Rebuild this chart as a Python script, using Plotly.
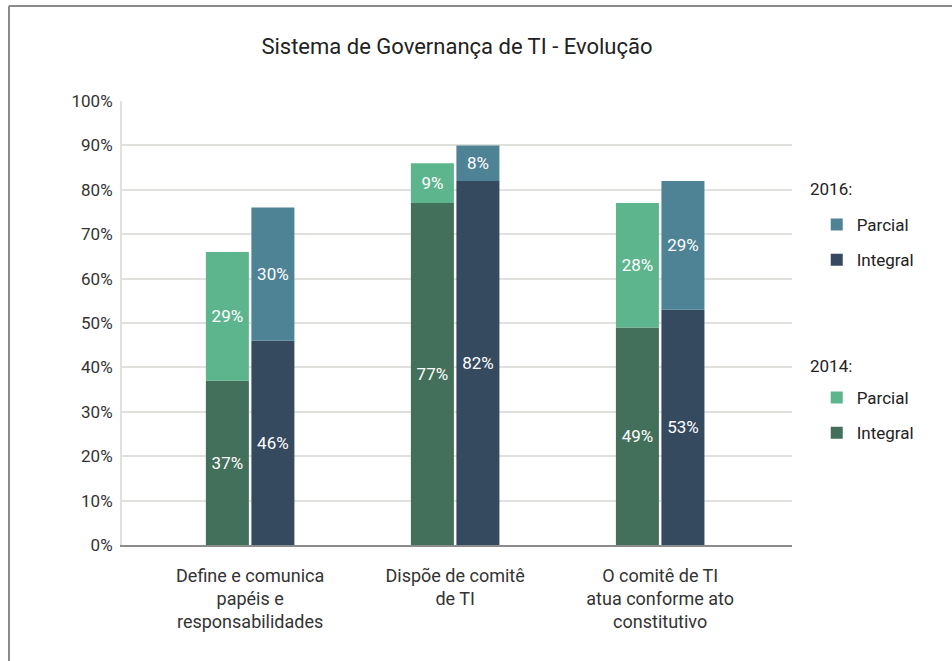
import plotly.graph_objects as go

# Data
categories = [
    "Define e comunica<br>papéis e<br>responsabilidades",
    "Dispõe de comitê<br>de TI",
    "O comitê de TI<br>atua conforme ato<br>constitutivo",
]
integral_2014 = [37, 77, 49]
parcial_2014 = [29, 9, 28]
integral_2016 = [46, 82, 53]
parcial_2016 = [30, 8, 29]
y_ticks = list(range(0, 101, 10))

FONT = "Roboto, 'Noto Sans', sans-serif"
C_INT_14 = "#43705a"
C_PAR_14 = "#5db58d"
C_INT_16 = "#35495f"
C_PAR_16 = "#4e8396"

def pct(vals):
    return [f"{v}%" for v in vals]

fig = go.Figure()

series = [
    # name, values, base, colour, year group, legend, rank
    ("Integral", integral_2014, None, C_INT_14, "2014", "legend2", 2),
    ("Parcial", parcial_2014, integral_2014, C_PAR_14, "2014", "legend2", 1),
    ("Integral", integral_2016, None, C_INT_16, "2016", "legend", 2),
    ("Parcial", parcial_2016, integral_2016, C_PAR_16, "2016", "legend", 1),
]

for name, vals, base, color, year, leg, rank in series:
    fig.add_trace(go.Bar(
        x=categories,
        y=vals,
        base=base,
        name=name,
        offsetgroup=year,
        legendgroup=f"{year}-{name}",
        legend=leg,
        legendrank=rank,
        marker=dict(color=color, line=dict(width=0)),
        text=pct(vals),
        textposition="inside",
        insidetextanchor="middle",
        textangle=0,
        textfont=dict(family=FONT, size=17, color="white"),
        hovertemplate=f"{year} {name}: %{{y}}%<extra></extra>",
    ))

legend_common = dict(
    font=dict(family=FONT, size=17, color="#222222"),
    bgcolor="rgba(0,0,0,0)",
    tracegroupgap=10,
    indentation=10,
    xanchor="left",
    yanchor="top",
    traceorder="grouped",
)

# year headings above each legend block
year_titles = [("2016:", 189), ("2014:", 366)]
annotations = [
    dict(text=t, xref="paper", yref="paper",
         x=(808 - 122) / 670, y=(545 - py) / 444,
         xanchor="left", yanchor="middle", showarrow=False,
         font=dict(family=FONT, size=17, color="#222222"))
    for t, py in year_titles
]

fig.update_layout(
    width=952,
    height=661,
    margin=dict(l=122, r=160, t=101, b=116),
    paper_bgcolor="white",
    plot_bgcolor="white",
    barmode="group",
    bargap=0.556,
    bargroupgap=0.055,
    title=dict(
        text="Sistema de Governança de TI - Evolução",
        font=dict(family=FONT, size=22, color="#222222"),
        x=0.48, xanchor="center",
        y=1 - 46 / 661, yanchor="middle",
    ),
    font=dict(family=FONT, color="#333333"),
    legend=dict(x=1.022, y=(545 - 207) / 444, **legend_common),
    legend2=dict(x=1.022, y=(545 - 380) / 444, **legend_common),
    annotations=annotations,
    xaxis=dict(
        range=[-0.625, 2.643],
        showline=True,
        linecolor="#8c8c8c",
        linewidth=2,
        showgrid=False,
        ticks="",
        ticklabelstandoff=13,
        tickfont=dict(family=FONT, size=18, color="#333333"),
    ),
    yaxis=dict(
        range=[0, 100],
        tickvals=y_ticks,
        ticktext=[f"{v}%" for v in y_ticks],
        showgrid=True,
        gridcolor="#e0e0dc",
        gridwidth=2,
        zeroline=False,
        showline=True,
        linecolor="#e0e0dc",
        linewidth=2,
        ticks="",
        ticklabelstandoff=4,
        tickfont=dict(family=FONT, size=17, color="#333333"),
    ),
    shapes=[
        # page frame: top and left edges
        dict(type="line", xref="paper", yref="paper",
             x0=(9 - 122) / 670, x1=(952 - 122) / 670,
             y0=(545 - 6) / 444, y1=(545 - 6) / 444,
             line=dict(color="#8a8a8a", width=2)),
        dict(type="line", xref="paper", yref="paper",
             x0=(9 - 122) / 670, x1=(9 - 122) / 670,
             y0=(545 - 6) / 444, y1=(545 - 661) / 444,
             line=dict(color="#8a8a8a", width=2)),
    ],
)

fig.write_html("out.html")
